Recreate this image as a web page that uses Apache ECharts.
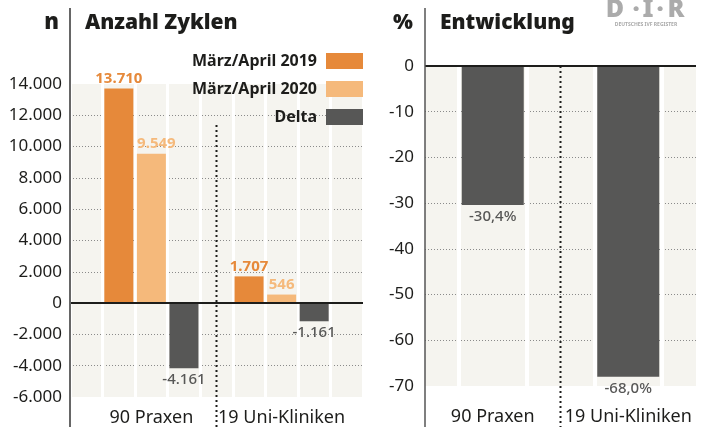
<!DOCTYPE html>
<html><head><meta charset="utf-8">
<script src="https://cdn.jsdelivr.net/npm/echarts@6/dist/echarts.min.js"></script>
<style>html,body{margin:0;padding:0;background:#fff}#c{width:704px;height:427px}</style>
</head><body><div id="c"></div>
<script>
// ---- data ----
const groups = ['90 Praxen', '19 Uni-Kliniken'];
const seriesNames = ['März/April 2019', 'März/April 2020', 'Delta'];
const cycles2019 = [13710, 1707];
const cycles2020 = [9549, 546];
const cyclesDelta = [-4161, -1161];
const pctChange = [-30.4, -68.0];
const leftMin = -6000, leftMax = 14000, leftStep = 2000;
const rightMin = -70, rightMax = 0, rightStep = 10;

// ---- style ----
const FONT = '"Noto Sans", "Open Sans", sans-serif';
const C2019 = '#e6893a', C2020 = '#f5b97b', CDELTA = '#575756';
const BG = '#f5f4ef', TXT = '#1d1d1b';

function de(n) {
  const s = Math.abs(n).toString().replace(/\B(?=(\d{3})+(?!\d))/g, '.');
  return (n < 0 ? '-' : '') + s;
}
function pct(v) { return v.toFixed(1).replace('.', ',') + '%'; }

// left panel: 9 slots = [gap, g0 x3, divider, g1 x3, gap]
const nSlots = 9;
function slotData(values, k, labelOffsets) {
  const arr = new Array(nSlots).fill('-');
  values.forEach((v, g) => {
    const off = labelOffsets && labelOffsets[g];
    arr[1 + g * 4 + k] = off ? {value: v, label: {offset: off}} : v;
  });
  return arr;
}
const leftCats = new Array(nSlots).fill('');
groups.forEach((g, i) => { leftCats[2 + i * 4] = g; });
// right panel: 9 points (boundaryGap false), groups at 2 and 6
const rightCats = new Array(nSlots).fill('');
groups.forEach((g, i) => { rightCats[2 + i * 4] = g; });
const rightData = new Array(nSlots).fill('-');
pctChange.forEach((v, i) => { rightData[2 + i * 4] = v; });

const chart = echarts.init(document.getElementById('c'), null, {renderer: 'canvas'});

const labelBase = {fontFamily: FONT, fontSize: 15};
const zeroLine = {
  silent: true, symbol: 'none', label: {show: false},
  lineStyle: {color: '#1d1d1b', width: 2, type: 'solid'},
  data: [{yAxis: 0}]
};

const option = {
  animation: false,
  backgroundColor: '#fff',
  textStyle: {fontFamily: FONT},
  grid: [
    {left: 70, width: 293, top: 84, height: 314, show: true, backgroundColor: BG, borderWidth: 0},
    {left: 425, width: 271, top: 66, height: 320, show: true, backgroundColor: BG, borderWidth: 0}
  ],
  legend: {
    data: seriesNames,
    orient: 'vertical', align: 'right',
    right: 341, top: 53, itemGap: 12, padding: 0,
    icon: 'rect', itemWidth: 37, itemHeight: 16,
    textStyle: {fontFamily: FONT, fontSize: 16, fontWeight: 'bold', color: TXT, padding: [0, 4, 0, 0]},
    selectedMode: false
  },
  xAxis: [
    {
      gridIndex: 0, type: 'category', data: leftCats, boundaryGap: true,
      axisLine: {show: false}, axisTick: {show: false},
      axisLabel: {interval: 0, margin: 12, fontFamily: FONT, fontSize: 18, color: TXT},
      splitLine: {show: true, interval: 0, lineStyle: {color: '#ffffff', width: 3}}
    },
    {
      gridIndex: 1, type: 'category', data: rightCats, boundaryGap: false,
      axisLine: {show: false}, axisTick: {show: false},
      axisLabel: {interval: 0, margin: 22, fontFamily: FONT, fontSize: 18, color: TXT},
      splitLine: {show: true, interval: (i) => i % 2 === 1, lineStyle: {color: '#ffffff', width: 4}}
    }
  ],
  yAxis: [
    {
      gridIndex: 0, type: 'value', min: leftMin, max: leftMax, interval: leftStep,
      axisLine: {show: false}, axisTick: {show: false},
      axisLabel: {margin: 8, fontFamily: FONT, fontSize: 17, color: TXT, formatter: de},
      splitLine: {show: true, showMinLine: false, showMaxLine: false,
        lineStyle: {color: '#8a8a8a', width: 1, type: [1, 2]}}
    },
    {
      gridIndex: 1, type: 'value', min: rightMin, max: rightMax, interval: rightStep,
      axisLine: {show: false}, axisTick: {show: false},
      axisLabel: {margin: 11, fontFamily: FONT, fontSize: 17, color: TXT},
      splitLine: {show: true, showMinLine: false, showMaxLine: false,
        lineStyle: {color: '#8a8a8a', width: 1, type: [1, 2]}}
    }
  ],
  series: [
    {
      name: seriesNames[0], type: 'bar', xAxisIndex: 0, yAxisIndex: 0, stack: 'L',
      barWidth: 29, data: slotData(cycles2019, 0),
      itemStyle: {color: C2019},
      label: {show: true, position: 'top', distance: 2, ...labelBase, fontWeight: 'bold', color: C2019, formatter: p => de(p.value)}
    },
    {
      name: seriesNames[1], type: 'bar', xAxisIndex: 0, yAxisIndex: 0, stack: 'L',
      barWidth: 29, data: slotData(cycles2020, 1, [[5, 0], null]),
      itemStyle: {color: C2020},
      label: {show: true, position: 'top', distance: 2, ...labelBase, fontWeight: 'bold', color: C2020, formatter: p => de(p.value)}
    },
    {
      name: seriesNames[2], type: 'bar', xAxisIndex: 0, yAxisIndex: 0, stack: 'L',
      barWidth: 29, data: slotData(cyclesDelta, 2),
      itemStyle: {color: CDELTA},
      label: {show: true, position: 'bottom', distance: 4, ...labelBase, fontWeight: 500, color: CDELTA, formatter: p => de(p.value)},
      markLine: zeroLine
    },
    {
      name: 'Entwicklung', type: 'bar', xAxisIndex: 1, yAxisIndex: 1,
      barWidth: 62, data: rightData,
      itemStyle: {color: CDELTA},
      label: {show: true, position: 'bottom', distance: 4, ...labelBase, fontWeight: 500, color: CDELTA, formatter: p => pct(p.value)},
      markLine: zeroLine
    }
  ]
};
chart.setOption(option);

// decorations positioned from the axes
const divL = chart.convertToPixel({xAxisIndex: 0}, 4);
const divR = chart.convertToPixel({xAxisIndex: 1}, 4);
const yTopR = chart.convertToPixel({yAxisIndex: 1}, 0);
const axisL = chart.convertToPixel({xAxisIndex: 0}, 0) - 293 / 9 / 2;
const axisR = chart.convertToPixel({xAxisIndex: 1}, 0);

const dotLine = {stroke: '#1d1d1b', lineWidth: 2, lineDash: [2, 3]};
const logo = (t, x) => ({type: 'text', x: x, y: 10, style: {text: t, font: '900 25px ' + FONT, fill: '#ababab', align: 'center', verticalAlign: 'middle'}});
chart.setOption({
  graphic: [
    {type: 'line', z: 50, shape: {x1: axisL, y1: 8, x2: axisL, y2: 427}, style: {stroke: '#666', lineWidth: 2}},
    {type: 'line', z: 50, shape: {x1: axisR, y1: 8, x2: axisR, y2: 427}, style: {stroke: '#555', lineWidth: 1.5}},
    {type: 'line', z: 50, shape: {x1: divL, y1: 125, x2: divL, y2: 427}, style: dotLine},
    {type: 'line', z: 50, shape: {x1: divR, y1: yTopR, x2: divR, y2: 427}, style: dotLine},
    {type: 'text', x: 59, y: 23, style: {text: 'n', font: '900 22px ' + FONT, fill: TXT, align: 'right', verticalAlign: 'middle'}},
    {type: 'text', x: 85, y: 23, style: {text: 'Anzahl Zyklen', font: '900 21px ' + FONT, fill: TXT, align: 'left', verticalAlign: 'middle'}},
    {type: 'text', x: 413, y: 23, style: {text: '%', font: '900 21px ' + FONT, fill: TXT, align: 'right', verticalAlign: 'middle'}},
    {type: 'text', x: 440, y: 23, style: {text: 'Entwicklung', font: '900 21px ' + FONT, fill: TXT, align: 'left', verticalAlign: 'middle'}},
    logo('D', 615), logo('·', 636), logo('I', 648), logo('·', 660), logo('R', 676),
    {type: 'text', x: 646, y: 25, style: {text: 'DEUTSCHES IVF REGISTER', font: 'bold 5px ' + FONT, fill: '#a9a9a9', align: 'center', verticalAlign: 'middle'}}
  ]
});
</script>
</body></html>
